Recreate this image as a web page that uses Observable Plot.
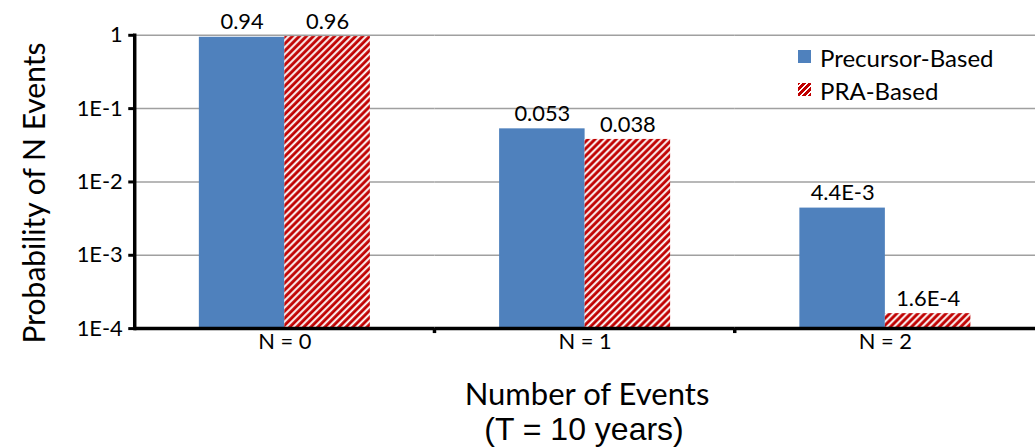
<!DOCTYPE html>
<html><head><meta charset="utf-8">
<script src="https://cdn.jsdelivr.net/npm/d3@7"></script>
<script src="https://cdn.jsdelivr.net/npm/@observablehq/plot@0.6"></script>
<style>
body{margin:0;background:#fff}
#wrap{position:relative;width:1035px;height:447px;overflow:hidden}
.lbl{position:absolute;white-space:nowrap;color:#000}
.leg{position:absolute;font-family:Lato,sans-serif;font-size:24px;white-space:nowrap}
.sw{position:absolute;width:13px;height:13px}
</style>
</head><body><div id="wrap"></div>
<script>
const categories = ["N = 0", "N = 1", "N = 2"];
const series = ["Precursor-Based", "PRA-Based"];
const precursor = [0.94, 0.053, 4.4e-3];
const pra = [0.96, 0.038, 1.6e-4];
const precursorLabels = ["0.94", "0.053", "4.4E-3"];
const praLabels = ["0.96", "0.038", "1.6E-4"];
const yTicks = [1, 1e-1, 1e-2, 1e-3, 1e-4];
const yTickLabels = ["1", "1E-1", "1E-2", "1E-3", "1E-4"];
const colors = ["#4f81bd", "url(#stripes)"];

const data = categories.flatMap((c, i) => [
  {cat: c, series: series[0], value: precursor[i], label: precursorLabels[i]},
  {cat: c, series: series[1], value: pra[i], label: praLabels[i]}
]);
const yTickData = yTicks.map((v, i) => ({cat: categories[0], v, label: yTickLabels[i]}));

const plot = Plot.plot({
  width: 1041, height: 447,
  marginLeft: 135, marginRight: 0, marginTop: 35, marginBottom: 117,
  style: {fontFamily: "Lato, sans-serif", background: "white", overflow: "visible"},
  fx: {domain: categories, padding: 0, axis: null, label: null},
  x: {domain: series, paddingInner: 0, paddingOuter: 0.74, axis: null},
  y: {type: "log", domain: [1e-4, 1], axis: null},
  color: {domain: series, range: colors},
  marks: [
    Plot.gridY(yTicks, {stroke: "#a0a0a0", strokeOpacity: 1, strokeWidth: 1.5}),
    Plot.barY(data, {fx: "cat", x: "series", y1: 1e-4, y2: "value", fill: "series"}),
    Plot.text(data, {fx: "cat", x: "series", y: "value", text: "label", dy: -15, fontSize: 22, fill: "black"}),
    Plot.ruleY([1e-4], {stroke: "black", strokeWidth: 3.5}),
    Plot.axisY(yTicks, {tickFormat: () => "", tickSize: 6, strokeWidth: 3, stroke: "black", label: null}),
    Plot.text(yTickData, {fx: "cat", y: "v", text: "label", frameAnchor: "left", textAnchor: "end", dx: -12, fontSize: 22, fill: "black"}),
    Plot.text(categories, {fx: d => d, text: d => d, frameAnchor: "bottom", dy: 21, fontSize: 22, fill: "black"}),
    Plot.frame({anchor: "left", stroke: "black", strokeWidth: 3.5, facet: "super"})
  ]
});

const svg = d3.select(plot);

// stripe pattern definition
const defs = svg.insert("defs", ":first-child");
const pat = defs.append("pattern").attr("id", "stripes").attr("patternUnits", "userSpaceOnUse")
  .attr("width", 5).attr("height", 5).attr("patternTransform", "rotate(45)");
pat.append("rect").attr("width", 5).attr("height", 5).attr("fill", "#c00000");
pat.append("line").attr("x1", 1.2).attr("y1", 0).attr("x2", 1.2).attr("y2", 5).attr("stroke", "white").attr("stroke-width", 2);

// boundary ticks between categories
const fx = plot.scale("fx");
const yS = plot.scale("y");
const base = yS.apply(1e-4);
categories.slice(1).forEach(c => {
  const xb = fx.apply(c);
  svg.append("line").attr("x1", xb).attr("x2", xb).attr("y1", base).attr("y2", base + 5)
    .attr("stroke", "black").attr("stroke-width", 3.5);
});

const wrap = document.getElementById("wrap");
wrap.appendChild(plot);

const yt = document.createElement("div");
yt.className = "lbl";
yt.textContent = "Probability of N Events";
yt.style.cssText += "font-family:Lato,sans-serif;font-size:30px;left:33px;top:193px;transform:translate(-50%,-50%) rotate(-90deg);";
wrap.appendChild(yt);

const xt1 = document.createElement("div");
xt1.className = "lbl";
xt1.textContent = "Number of Events";
xt1.style.cssText += "font-family:Lato,sans-serif;font-size:31px;left:587px;top:393px;transform:translate(-50%,-50%);";
wrap.appendChild(xt1);

const xt2 = document.createElement("div");
xt2.className = "lbl";
xt2.textContent = "(T = 10 years)";
xt2.style.cssText += "font-family:'Liberation Sans',Arial,sans-serif;font-size:32px;left:584px;top:429px;transform:translate(-50%,-50%);";
wrap.appendChild(xt2);

series.forEach((s, i) => {
  const sw = document.createElement("div");
  sw.className = "sw";
  sw.style.left = "798px";
  sw.style.top = (50 + i * 33) + "px";
  sw.style.background = i === 0 ? colors[0] : "repeating-linear-gradient(-45deg, #c00000 0px, #c00000 2.4px, #fff 2.4px, #fff 4.2px)";
  wrap.appendChild(sw);
  const t = document.createElement("div");
  t.className = "leg";
  t.textContent = s;
  t.style.left = "820px";
  t.style.top = (56.5 + i * 33) + "px";
  t.style.transform = "translateY(-50%)";
  wrap.appendChild(t);
});
</script>
</body></html>
